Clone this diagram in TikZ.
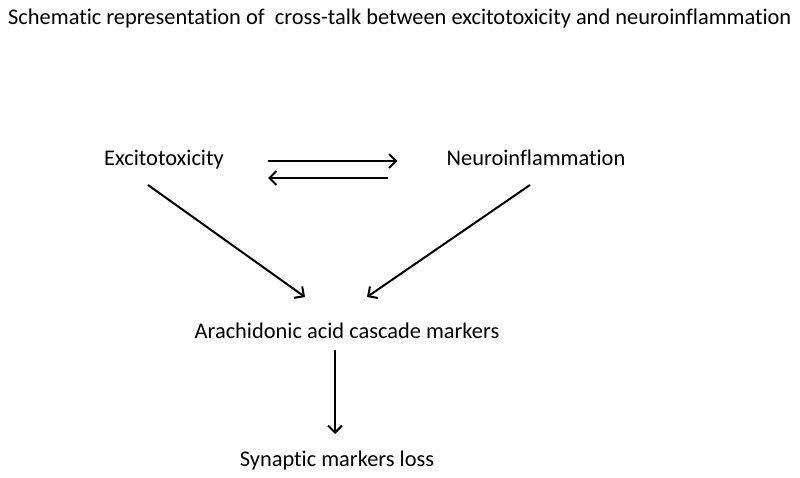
\documentclass[tikz,border=0pt]{standalone}
\usepackage{fontspec}
\setmainfont{Carlito}[Ligatures=NoCommon]
\usetikzlibrary{arrows.meta}
\tikzset{
  lbl/.style={inner sep=0pt, anchor=base, font=\fontsize{22.4}{26}\selectfont},
  arr/.style={line width=2pt, -{Straight Barb[length=7pt,width=14pt,line width=2pt]}}
}
\begin{document}
\begin{tikzpicture}[x=1pt,y=-1pt]
\useasboundingbox (0,0) rectangle (800,478);
\node[lbl, anchor=base west] (title) at (8,25) {Schematic representation of\ \ cross-talk between excitotoxicity and neuroinflammation};
\node[lbl] (exc) at (164,166) {Excitotoxicity};
\node[lbl] (neuro) at (536,166) {Neuroinflammation};
\node[lbl] (arach) at (347,338) {Arachidonic acid cascade markers};
\node[lbl] (syn) at (337,466) {Synaptic markers loss};
\draw[arr] ([shift={(44,-5)}]exc.base east) -- ([shift={(-49,-5)}]neuro.base west);
\draw[arr] ([shift={(-58,12)}]neuro.base west) -- ([shift={(44,12)}]exc.base east);
\draw[arr] ([shift={(-16,19)}]exc.base) -- ([shift={(-42,-41)}]arach.base);
\draw[arr] ([shift={(-6,19)}]neuro.base) -- ([shift={(20,-41)}]arach.base);
\draw[arr] ([shift={(-12,12)}]arach.base) -- ([shift={(-2,-32)}]syn.base);
\end{tikzpicture}
\end{document}
